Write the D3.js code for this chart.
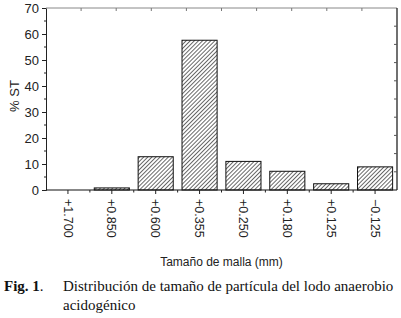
<!DOCTYPE html>
<html>
<head>
<meta charset="utf-8">
<script src="https://cdn.jsdelivr.net/npm/d3@7"></script>
<style>
body { margin: 0; background: #fff; }
</style>
</head>
<body>
<div id="chart"></div>
<script>
var categories = ["+1.700", "+0.850", "+0.600", "+0.355", "+0.250", "+0.180", "+0.125", "\u22120.125"];
var values = [0, 0.8, 12.8, 57.6, 11.0, 7.2, 2.4, 8.9];
var yTicks = [0, 10, 20, 30, 40, 50, 60, 70];

var margin = {top: 8, right: 4, bottom: 128, left: 46},
    width = 401 - margin.left - margin.right,
    height = 318 - margin.top - margin.bottom;

var svg = d3.select("#chart")
    .append("svg")
    .attr("width", 401)
    .attr("height", 318);

// hatch pattern
var defs = svg.append("defs");
defs.append("pattern")
    .attr("id", "hatch")
    .attr("patternUnits", "userSpaceOnUse")
    .attr("width", 2.9)
    .attr("height", 4)
    .attr("patternTransform", "rotate(45)")
  .append("line")
    .attr("x1", 0).attr("y1", 0)
    .attr("x2", 0).attr("y2", 4)
    .attr("stroke", "#1a1a1a")
    .attr("stroke-width", 1.3);

var g = svg.append("g")
    .attr("transform", "translate(" + margin.left + "," + margin.top + ")");

var x = d3.scaleBand()
    .domain(categories)
    .range([0, width])
    .paddingInner(0.2)
    .paddingOuter(0.1);

var y = d3.scaleLinear()
    .domain([0, 70])
    .range([height, 0]);

// bars
g.selectAll("rect.bar")
    .data(values)
    .enter().append("rect")
    .attr("class", "bar")
    .attr("x", function(d, i) { return x(categories[i]); })
    .attr("y", function(d) { return y(d); })
    .attr("width", x.bandwidth())
    .attr("height", function(d) { return height - y(d); })
    .attr("fill", "url(#hatch)")
    .attr("stroke", function(d) { return d > 0 ? "#111" : "none"; })
    .attr("stroke-width", 1);

// left axis
var yAxis = g.append("g")
    .call(d3.axisLeft(y).tickValues(yTicks).tickSize(4).tickPadding(3).tickFormat(d3.format("d")));
yAxis.select(".domain").attr("stroke", "#222");
yAxis.selectAll(".tick line").attr("stroke", "#222");
yAxis.selectAll("text")
    .attr("font-family", "Liberation Sans, Arial, sans-serif")
    .attr("font-size", 13)
    .attr("fill", "#222");

// minor left ticks
g.append("g")
    .selectAll("line")
    .data(d3.range(5, 70, 10))
    .enter().append("line")
    .attr("x1", -2).attr("x2", 0)
    .attr("y1", function(d) { return y(d); })
    .attr("y2", function(d) { return y(d); })
    .attr("stroke", "#222");

// bottom axis
var step = x.step();
var bottom = g.append("g")
    .attr("transform", "translate(0," + height + ")");
bottom.append("line")
    .attr("x1", 0).attr("x2", width)
    .attr("stroke", "#111").attr("stroke-width", 1.2);
bottom.selectAll("line.major")
    .data(categories)
    .enter().append("line")
    .attr("class", "major")
    .attr("x1", function(d) { return x(d) + x.bandwidth() / 2; })
    .attr("x2", function(d) { return x(d) + x.bandwidth() / 2; })
    .attr("y1", 0).attr("y2", 4)
    .attr("stroke", "#222");
bottom.selectAll("line.minor")
    .data(categories.slice(1))
    .enter().append("line")
    .attr("class", "minor")
    .attr("x1", function(d) { return x(d) - step * 0.1; })
    .attr("x2", function(d) { return x(d) - step * 0.1; })
    .attr("y1", 0).attr("y2", 2.5)
    .attr("stroke", "#222");
bottom.selectAll("text")
    .data(categories)
    .enter().append("text")
    .attr("transform", function(d) {
        return "translate(" + (x(d) + x.bandwidth() / 2) + ",9)rotate(90)";
    })
    .attr("dy", "0.35em")
    .attr("font-family", "Liberation Sans, Arial, sans-serif")
    .attr("font-size", 12.5)
    .attr("fill", "#222")
    .text(function(d) { return d; });

// top axis (gray, 10 divisions)
var xTop = d3.scaleLinear().domain([0, 10]).range([0, width]);
g.append("line")
    .attr("x1", 0).attr("x2", width)
    .attr("stroke", "#888");
g.append("g")
    .selectAll("line")
    .data(d3.range(1, 10))
    .enter().append("line")
    .attr("x1", function(d) { return xTop(d); })
    .attr("x2", function(d) { return xTop(d); })
    .attr("y1", 0).attr("y2", 3)
    .attr("stroke", "#777");

// right axis (10 divisions)
var yRight = d3.scaleLinear().domain([0, 10]).range([height, 0]);
g.append("line")
    .attr("x1", width).attr("x2", width)
    .attr("y1", 0).attr("y2", height)
    .attr("stroke", "#111").attr("stroke-width", 1.2);
g.append("g")
    .selectAll("line")
    .data(d3.range(1, 10))
    .enter().append("line")
    .attr("x1", width - 3).attr("x2", width)
    .attr("y1", function(d) { return yRight(d); })
    .attr("y2", function(d) { return yRight(d); })
    .attr("stroke", "#555");

// y label
svg.append("text")
    .attr("transform", "translate(19," + (margin.top + height / 2 - 3) + ")rotate(-90)")
    .attr("text-anchor", "middle")
    .attr("font-family", "Liberation Sans, Arial, sans-serif")
    .attr("font-size", 13)
    .attr("fill", "#222")
    .text("% ST");

// x label
svg.append("text")
    .attr("x", margin.left + width / 2)
    .attr("y", 266)
    .attr("text-anchor", "middle")
    .attr("font-family", "Liberation Sans, Arial, sans-serif")
    .attr("font-size", 12)
    .attr("fill", "#222")
    .text("Tamaño de malla (mm)");

// caption
var cap = svg.append("text")
    .attr("font-family", "'Liberation Serif', 'Times New Roman', serif")
    .attr("font-size", 15)
    .attr("fill", "#111");
cap.append("tspan")
    .attr("x", 4).attr("y", 291)
    .attr("font-weight", "bold")
    .text("Fig. 1");
cap.append("tspan")
    .text(".");
cap.append("tspan")
    .attr("x", 63)
    .text("Distribución de tamaño de partícula del lodo anaerobio");
cap.append("tspan")
    .attr("x", 63).attr("y", 310)
    .text("acidogénico");
</script>
</body>
</html>
